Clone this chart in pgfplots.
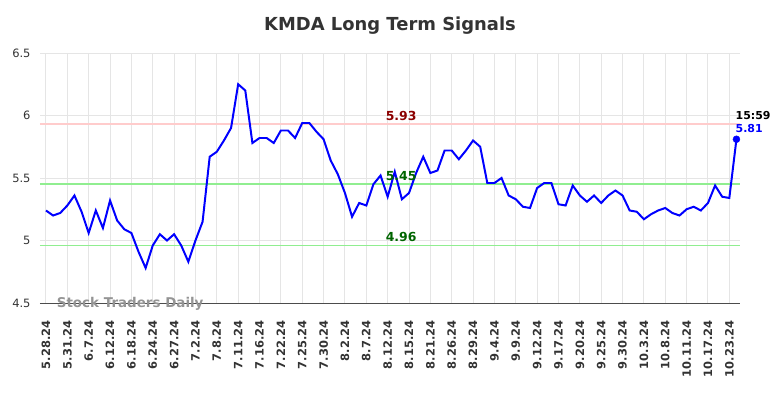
\documentclass[border=0pt]{standalone}
\usepackage{pgfplots}
\pgfplotsset{compat=1.18}
\usepackage{pgfplotstable}
\usepackage{fontspec}
\setmainfont{DejaVu Sans}
\definecolor{resline}{HTML}{FFCCCC}
\definecolor{supline}{HTML}{90EE90}
\definecolor{reslab}{HTML}{8B0000}
\definecolor{suplab}{HTML}{006400}
\definecolor{titlec}{HTML}{333333}

\pgfplotstableread{
x y
0 5.24
1 5.20
2 5.22
3 5.28
4 5.36
5 5.23
6 5.06
7 5.24
8 5.10
9 5.32
10 5.16
11 5.09
12 5.06
13 4.91
14 4.78
15 4.96
16 5.05
17 5.00
18 5.05
19 4.96
20 4.83
21 5.00
22 5.15
23 5.67
24 5.71
25 5.80
26 5.90
27 6.25
28 6.20
29 5.78
30 5.82
31 5.82
32 5.78
33 5.88
34 5.88
35 5.82
36 5.94
37 5.94
38 5.87
39 5.81
40 5.64
41 5.53
42 5.38
43 5.19
44 5.30
45 5.28
46 5.45
47 5.52
48 5.35
49 5.55
50 5.33
51 5.38
52 5.54
53 5.67
54 5.54
55 5.56
56 5.72
57 5.72
58 5.65
59 5.72
60 5.80
61 5.75
62 5.46
63 5.46
64 5.50
65 5.36
66 5.33
67 5.27
68 5.26
69 5.42
70 5.46
71 5.46
72 5.29
73 5.28
74 5.44
75 5.36
76 5.31
77 5.36
78 5.30
79 5.36
80 5.40
81 5.36
82 5.24
83 5.23
84 5.17
85 5.21
86 5.24
87 5.26
88 5.22
89 5.20
90 5.25
91 5.27
92 5.24
93 5.30
94 5.44
95 5.35
96 5.34
97 5.81
}\data

\begin{document}
\begin{tikzpicture}
\begin{axis}[
  name=main,
  scale only axis, width=700bp, height=250bp,
  xmin=-0.84, xmax=97.5, ymin=4.5, ymax=6.5,
  xtick={0,3,...,96},
  xticklabels={5.28.24,5.31.24,6.7.24,6.12.24,6.18.24,6.24.24,6.27.24,7.2.24,7.8.24,7.11.24,7.16.24,7.22.24,7.25.24,7.30.24,8.2.24,8.7.24,8.12.24,8.15.24,8.21.24,8.26.24,8.29.24,9.4.24,9.9.24,9.12.24,9.17.24,9.20.24,9.25.24,9.30.24,10.3.24,10.8.24,10.11.24,10.17.24,10.23.24},
  ytick={4.5,5,5.5,6,6.5},
  yticklabels={4.5,5,5.5,6,6.5},
  grid=major, grid style={draw=black!10, line width=1pt},
  axis x line*=bottom, x axis line style={draw=black!70, line width=1pt, -},
  axis y line*=left, y axis line style={draw=none},
  major tick length=0pt,
  xticklabel style={rotate=90, anchor=east, font=\fontsize{11.5}{13}\selectfont\bfseries, text=titlec, xshift=-14bp},
  yticklabel style={font=\fontsize{11.5}{13}\selectfont, text=titlec, xshift=-6bp},
  clip=false,
]
\addplot[draw=resline, line width=2pt, forget plot] coordinates {(-0.84,5.93) (97.5,5.93)};
\addplot[draw=supline, line width=2pt, forget plot] coordinates {(-0.84,5.45) (97.5,5.45)};
\addplot[draw=supline, line width=2pt, forget plot] coordinates {(-0.84,4.96) (97.5,4.96)};
\addplot[blue, line width=2pt, mark=none] table[x=x,y=y] {\data};
\addplot[blue, only marks, mark=*, mark size=3.5pt] coordinates {(97,5.81)};
\node[font=\fontsize{12.5}{14}\selectfont\bfseries, text=reslab, anchor=south] at (axis cs:49.9,5.93) {5.93};
\node[font=\fontsize{12.5}{14}\selectfont\bfseries, text=suplab, anchor=south] at (axis cs:49.9,5.45) {5.45};
\node[font=\fontsize{12.5}{14}\selectfont\bfseries, text=suplab, anchor=south] at (axis cs:49.9,4.96) {4.96};
\node[font=\fontsize{11}{13}\selectfont\bfseries, text=blue, anchor=west, inner sep=0pt] at (axis cs:97,5.81) [yshift=11bp, xshift=-1bp] {5.81};
\node[font=\fontsize{11}{13}\selectfont\bfseries, text=black, anchor=west, inner sep=0pt] at (axis cs:97,5.81) [yshift=24bp, xshift=-1bp] {15:59};
\node[font=\fontsize{13.5}{15}\selectfont\bfseries, text=black!42, anchor=west, inner sep=0pt] at (axis cs:1.5,4.5) [yshift=-1bp] {Stock Traders Daily};
\end{axis}
\node[font=\fontsize{18}{20}\selectfont\bfseries, text=titlec] at (main.north) [yshift=27bp] {KMDA Long Term Signals};
\pgfresetboundingbox
\path ([xshift=-40bp,yshift=-95bp]main.south west) rectangle ([xshift=44bp,yshift=53bp]main.north east);
\end{tikzpicture}
\end{document}
